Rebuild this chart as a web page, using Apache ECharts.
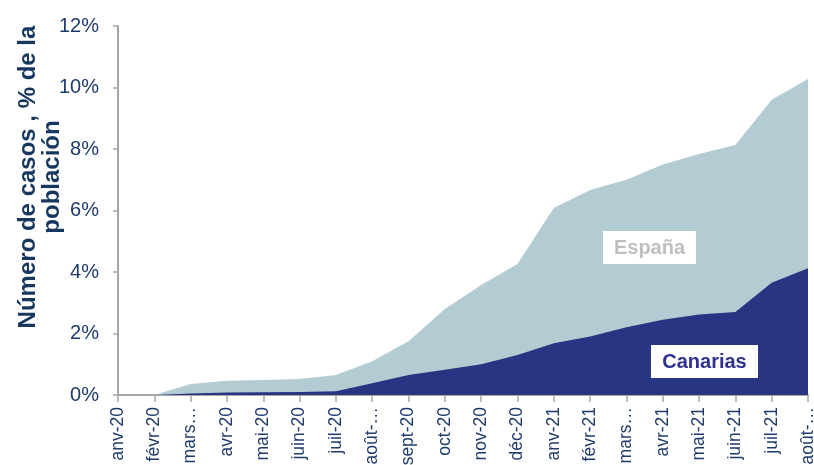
<!DOCTYPE html>
<html>
<head>
<meta charset="utf-8">
<script src="https://cdn.jsdelivr.net/npm/echarts@6/dist/echarts.min.js"></script>
<style>html,body{margin:0;padding:0;background:#fff}#c{width:814px;height:465px}</style>
</head>
<body>
<div id="c"></div>
<script>
var categories = ['anv-20','févr-20','mars…','avr-20','mai-20','juin-20','juil-20','août-…','sept-20','oct-20','nov-20','déc-20','anv-21','févr-21','mars…','avr-21','mai-21','juin-21','juil-21','août-…'];
var espana = [0, 0, 0.36, 0.46, 0.49, 0.52, 0.65, 1.10, 1.75, 2.80, 3.58, 4.26, 6.08, 6.67, 7.00, 7.50, 7.84, 8.13, 9.60, 10.28];
var canarias = [0, 0, 0.05, 0.08, 0.09, 0.10, 0.12, 0.38, 0.65, 0.82, 1.00, 1.30, 1.68, 1.90, 2.20, 2.45, 2.62, 2.70, 3.65, 4.12];
var yTicks = [0, 2, 4, 6, 8, 10, 12];

var chart = echarts.init(document.getElementById('c'), null, {renderer: 'canvas'});
var labelColor = '#1F3B6B';
chart.setOption({
  animation: false,
  grid: {left: 118, right: 6, top: 26, bottom: 70, containLabel: false, outerBoundsMode: 'none'},
  xAxis: {
    type: 'category', data: categories, boundaryGap: false,
    axisLine: {lineStyle: {color: '#A6A6A6', width: 2}},
    axisTick: {show: true, alignWithLabel: true, length: 7, lineStyle: {color: '#A6A6A6', width: 1.5}},
    axisLabel: {rotate: 90, interval: 0, margin: 12, color: labelColor, fontFamily: 'Liberation Sans, Arial', fontSize: 17.5, hideOverlap: false}
  },
  yAxis: {
    type: 'value', min: yTicks[0], max: yTicks[yTicks.length - 1], interval: 2,
    axisLine: {show: true, lineStyle: {color: '#A6A6A6', width: 2}},
    axisTick: {show: true, length: 5, lineStyle: {color: '#A6A6A6', width: 1.5}},
    splitLine: {show: false},
    axisLabel: {margin: 19, color: labelColor, fontFamily: 'Liberation Sans, Arial', fontSize: 20, formatter: function (v) { return v + '%'; }}
  },
  series: [
    {name: 'España', type: 'line', data: espana, symbol: 'none', lineStyle: {width: 0}, areaStyle: {color: '#B3CCD3', opacity: 1}, z: 1},
    {name: 'Canarias', type: 'line', data: canarias, symbol: 'none', lineStyle: {width: 0}, areaStyle: {color: '#283583', opacity: 1}, z: 2}
  ],
  graphic: [
    {type: 'text', x: 40, y: 177, rotation: Math.PI / 2,
     style: {text: 'Número de casos , % de la\npoblación', fill: '#17375E', font: 'bold 24px "Liberation Sans", Arial', align: 'center', verticalAlign: 'middle', lineHeight: 24}},
    {type: 'rect', shape: {x: 603, y: 231, width: 93, height: 33}, style: {fill: '#FFFFFF'}, z: 10},
    {type: 'text', x: 649.5, y: 248, z: 11, style: {text: 'España', fill: '#BFBFBF', font: 'bold 20px "Liberation Sans", Arial', align: 'center', verticalAlign: 'middle'}},
    {type: 'rect', shape: {x: 651, y: 345, width: 107, height: 33}, style: {fill: '#FFFFFF'}, z: 10},
    {type: 'text', x: 704.5, y: 362, z: 11, style: {text: 'Canarias', fill: '#2E3192', font: 'bold 20px "Liberation Sans", Arial', align: 'center', verticalAlign: 'middle'}}
  ]
});
</script>
</body>
</html>
